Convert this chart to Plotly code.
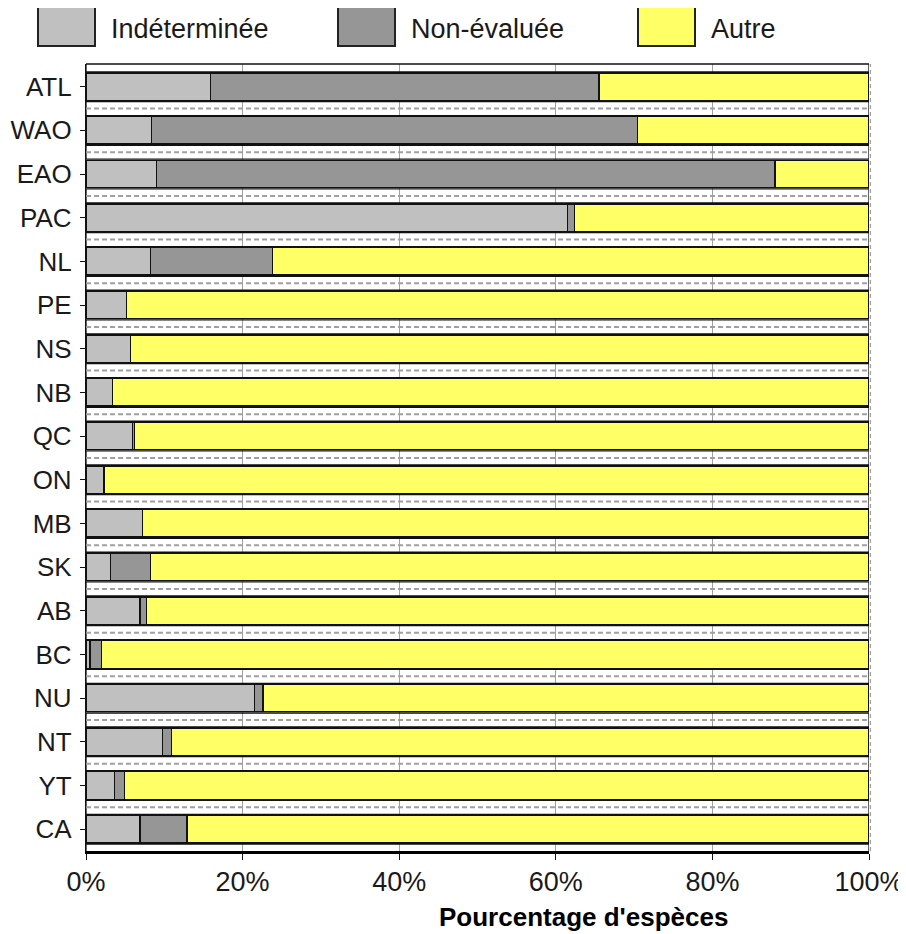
import plotly.graph_objects as go

# share of species per region (percent)
regions = ["ATL", "WAO", "EAO", "PAC", "NL", "PE", "NS", "NB", "QC",
           "ON", "MB", "SK", "AB", "BC", "NU", "NT", "YT", "CA"]
indeterminee = [15.9, 8.4, 9.0, 61.5, 8.2, 5.2, 5.7, 3.4, 5.9,
                2.3, 7.2, 3.1, 6.9, 0.5, 21.5, 9.8, 3.6, 6.9]
non_evaluee = [49.6, 62.0, 79.0, 0.9, 15.6, 0.0, 0.0, 0.0, 0.3,
               0.0, 0.0, 5.1, 0.8, 1.5, 1.1, 1.1, 1.3, 6.0]
autre = [34.5, 29.6, 12.0, 37.6, 76.2, 94.8, 94.3, 96.6, 93.8,
         97.7, 92.8, 91.8, 92.3, 98.0, 77.4, 89.1, 95.1, 87.1]

series_names = ["Indéterminée", "Non-évaluée", "Autre"]
series_colors = ["#c0c0c0", "#969696", "#ffff66"]
x_ticks = [0, 20, 40, 60, 80, 100]
x_tick_labels = [f"{v}%" for v in x_ticks]

FONT = "Liberation Sans, Arial, sans-serif"
OFF = 8  # the page body adds an 8px margin, shift the figure back
W, H = 906 - OFF, 934 - OFF
L, T = 86 - OFF, 64 - OFF
PW, PH = 783, 787
R, B = W - L - PW, H - T - PH


def px_x(px):
    return (px - OFF - L) / PW


def px_y(py):
    return 1 - (py - OFF - T) / PH


fig = go.Figure()
for name, vals, col in zip(series_names, [indeterminee, non_evaluee, autre], series_colors):
    fig.add_trace(go.Bar(y=regions, x=vals, name=name, orientation="h",
                         marker=dict(color=col, line=dict(color="#111111", width=1.3)),
                         showlegend=False))

shapes = []
n = len(regions)
# white boxes between the bars, with a dashed line through the inner ones
for k in range(n + 1):
    c = k - 0.5
    shapes.append(dict(type="rect", xref="x", yref="y", x0=0, x1=100,
                       y0=c - 0.16, y1=c + 0.16, fillcolor="rgba(0,0,0,0)",
                       line=dict(color="#111111", width=1.3), layer="above"))
    if 0 < k < n:
        shapes.append(dict(type="line", xref="x", yref="y", x0=0, x1=100, y0=c, y1=c,
                           line=dict(color="#a0a0a0", width=2, dash="5px,3px"), layer="above"))

# top frame line and dashed right edge
shapes.append(dict(type="line", xref="paper", yref="paper", x0=0, x1=1, y0=1, y1=1,
                   line=dict(color="#111111", width=1.3)))
shapes.append(dict(type="line", xref="paper", yref="paper", x0=1.0018, x1=1.0018, y0=0, y1=1,
                   line=dict(color="#a0a0a0", width=1.3, dash="4px,3px")))

# legend drawn by hand (big boxes)
legend_boxes = [38, 338, 638]
annotations = []
for bx, name, col in zip(legend_boxes, series_names, series_colors):
    shapes.append(dict(type="rect", xref="paper", yref="paper",
                       x0=px_x(bx), x1=px_x(bx + 57), y0=px_y(46), y1=px_y(6),
                       fillcolor=col, line=dict(color="#222222", width=2)))
    annotations.append(dict(text=name, xref="paper", yref="paper", x=px_x(bx + 71), y=px_y(29),
                            xanchor="left", yanchor="middle", showarrow=False,
                            font=dict(family=FONT, size=27, color="#1a1a1a")))

annotations.append(dict(text="<b>Pourcentage d'espèces</b>", xref="paper", yref="paper",
                        x=px_x(583), y=px_y(917), xanchor="center", yanchor="middle",
                        showarrow=False, font=dict(family=FONT, size=26, color="#000000")))

fig.update_layout(
    width=W, height=H,
    margin=dict(l=L, r=R, t=T, b=B, autoexpand=False),
    barmode="stack", bargap=0.373,
    plot_bgcolor="white", paper_bgcolor="white",
    font=dict(family=FONT, size=27, color="#1a1a1a"),
    shapes=shapes, annotations=annotations,
    xaxis=dict(range=[0, 100], tickmode="array", tickvals=x_ticks, ticktext=x_tick_labels,
               showgrid=True, gridcolor="#a0a0a0", gridwidth=1, automargin=False,
               showline=True, linecolor="#000000", linewidth=3.3,
               ticks="outside", ticklen=6, tickwidth=1.3, tickcolor="#111111",
               ticklabelstandoff=-2, zeroline=False),
    yaxis=dict(type="category", range=[n - 0.5, -0.52], showgrid=False, automargin=False,
               showline=True, linecolor="#111111", linewidth=1.3,
               ticks="outside", ticklen=5, tickwidth=1.3, tickcolor="#111111",
               tickfont=dict(size=26), ticklabelstandoff=3, zeroline=False),
)

fig.write_html("out.html")
